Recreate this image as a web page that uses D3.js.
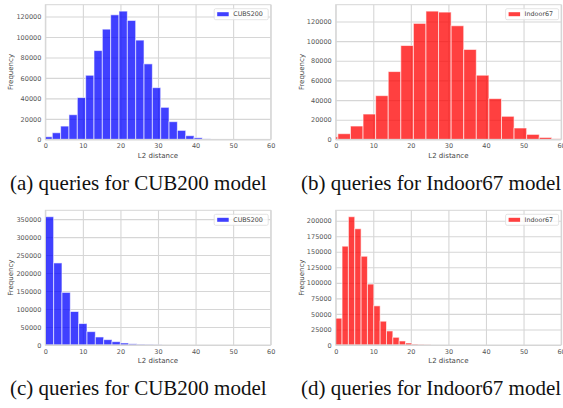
<!DOCTYPE html>
<html>
<head>
<meta charset="utf-8">
<script src="https://cdn.jsdelivr.net/npm/d3@7"></script>
<style>
  body { margin: 0; background: #fff; }
  svg { display: block; }
</style>
</head>
<body>
<script>

// histogram bin edges (L2 distance) and counts
var edgesA = [-0.36, 1.86, 4.08, 6.30, 8.52, 10.74, 12.96, 15.18, 17.40, 19.62, 21.84, 24.06, 26.28, 28.50, 30.72, 32.94, 35.16, 37.38, 39.60, 41.82, 44.04, 46.26];
var countsA = [2600, 6500, 13000, 24100, 40800, 62600, 86700, 107600, 121600, 125200, 116100, 96900, 73700, 50500, 31300, 17300, 8800, 3600, 1600, 500, 200];

var edgesB = [-2.77, 0.58, 3.93, 7.28, 10.63, 13.98, 17.33, 20.68, 24.03, 27.38, 30.73, 34.08, 37.43, 40.78, 44.13, 47.48, 50.83, 54.18, 57.53, 60.88];
var countsB = [2700, 5800, 13600, 25800, 44500, 69000, 95500, 118000, 130500, 129500, 115600, 91500, 65300, 41500, 23500, 11600, 5100, 2000, 600];

var edgesC = [0, 2.22, 4.44, 6.66, 8.88, 11.10, 13.32, 15.54, 17.76, 19.98, 22.20, 24.42, 26.64, 28.86, 31.08];
var countsC = [356600, 228100, 146200, 93100, 59600, 37200, 22300, 14900, 9300, 5600, 3300, 1800, 900, 400];

var edgesD = [0, 1.69, 3.38, 5.07, 6.76, 8.45, 10.14, 11.83, 13.52, 15.21, 16.90, 18.59, 20.28, 21.97, 23.66, 25.35];
var countsD = [43100, 159000, 206400, 187000, 142800, 98000, 63000, 38300, 22600, 12400, 6500, 3200, 1500, 800, 300];

var xTicks = [0, 10, 20, 30, 40, 50, 60];
var yTicksA = [0, 20000, 40000, 60000, 80000, 100000, 120000];
var yTicksC = [0, 50000, 100000, 150000, 200000, 250000, 300000, 350000];
var yTicksD = [0, 25000, 50000, 75000, 100000, 125000, 150000, 175000, 200000];

var legendNames = ["CUBS200", "Indoor67"];
var captions = ["(a) queries for CUB200 model", "(b) queries for Indoor67 model",
                "(c) queries for CUB200 model", "(d) queries for Indoor67 model"];

var W = 563, H = 408;
var svg = d3.select("body").append("svg")
    .attr("width", W)
    .attr("height", H);

var panels = [
  {x0: 45.3, y0: 4.7, edges: edgesA, counts: countsA, yTicks: yTicksA, color: "#0000ff", name: legendNames[0], caption: captions[0], capX: 10, capY: 190},
  {x0: 335.7, y0: 4.7, edges: edgesB, counts: countsB, yTicks: yTicksA, color: "#ff0000", name: legendNames[1], caption: captions[1], capX: 301, capY: 190},
  {x0: 45.3, y0: 210.3, edges: edgesC, counts: countsC, yTicks: yTicksC, color: "#0000ff", name: legendNames[0], caption: captions[2], capX: 10, capY: 395},
  {x0: 335.7, y0: 210.3, edges: edgesD, counts: countsD, yTicks: yTicksD, color: "#ff0000", name: legendNames[1], caption: captions[3], capX: 301, capY: 395}
];

var pw = 225.4, ph = 134.7;
var grid = "#d6d6d6", tickCol = "#555";

panels.forEach(function(p, i) {

  var g = svg.append("g").attr("transform", "translate(" + p.x0 + "," + p.y0 + ")");

  var x = d3.scaleLinear().domain([0, 60]).range([0, pw]);
  var y = d3.scaleLinear().domain([0, d3.max(p.counts) * 1.05]).range([ph, 0]);

  g.append("clipPath").attr("id", "clip" + i)
    .append("rect").attr("width", pw).attr("height", ph);

  // grid lines
  var xAxis = g.append("g")
      .attr("transform", "translate(0," + ph + ")")
      .call(d3.axisBottom(x).tickValues(xTicks).tickSize(-ph).tickPadding(4).tickFormat(d3.format("d")));
  var yAxis = g.append("g")
      .call(d3.axisLeft(y).tickValues(p.yTicks).tickSize(-pw).tickPadding(4).tickFormat(d3.format("d")));

  [xAxis, yAxis].forEach(function(a) {
    a.select(".domain").remove();
    a.selectAll("line").attr("stroke", grid).attr("stroke-width", 1.1);
    a.selectAll("text").attr("fill", tickCol)
      .style("font-family", "DejaVu Sans").style("font-size", "6.5px");
  });

  // bars
  g.append("g").attr("clip-path", "url(#clip" + i + ")")
    .selectAll("rect").data(p.counts).enter().append("rect")
      .attr("x", function(d, k) { return x(p.edges[k]); })
      .attr("width", function(d, k) { return x(p.edges[k + 1]) - x(p.edges[k]); })
      .attr("y", function(d) { return y(d); })
      .attr("height", function(d) { return ph - y(d); })
      .attr("fill", p.color)
      .attr("fill-opacity", 0.75)
      .attr("stroke", "#fff")
      .attr("stroke-opacity", 0.6)
      .attr("stroke-width", 1);

  // frame
  g.append("rect")
    .attr("width", pw).attr("height", ph)
    .attr("fill", "none").attr("stroke", grid).attr("stroke-width", 1);

  // axis labels
  g.append("text")
    .attr("x", pw / 2).attr("y", ph + 18.5)
    .attr("text-anchor", "middle")
    .attr("fill", "#444")
    .style("font-family", "DejaVu Sans").style("font-size", "7px")
    .text("L2 distance");

  g.append("text")
    .attr("transform", "rotate(-90)")
    .attr("x", -ph / 2).attr("y", -32)
    .attr("text-anchor", "middle")
    .attr("fill", "#444")
    .style("font-family", "DejaVu Sans").style("font-size", "7px")
    .text("Frequency");

  // legend
  var lw = i % 2 == 0 ? 54 : 53;
  var lg = g.append("g").attr("transform", "translate(" + (pw - lw - 2.5) + ",4)");
  lg.append("rect")
    .attr("width", lw).attr("height", 11).attr("rx", 1.5)
    .attr("fill", "#fff").attr("fill-opacity", 0.8)
    .attr("stroke", "#ddd").attr("stroke-width", 0.8);
  lg.append("rect")
    .attr("x", 3).attr("y", 3.5).attr("width", 11.5).attr("height", 4)
    .attr("fill", p.color).attr("fill-opacity", 0.75);
  lg.append("text")
    .attr("x", 19).attr("y", 7.8)
    .attr("fill", "#444")
    .style("font-family", "DejaVu Sans").style("font-size", "6.4px")
    .text(p.name);

  // caption
  svg.append("text")
    .attr("x", p.capX).attr("y", p.capY)
    .attr("fill", "#111")
    .style("font-family", "Liberation Serif").style("font-size", "21px")
    .text(p.caption);
});

</script>
</body>
</html>
